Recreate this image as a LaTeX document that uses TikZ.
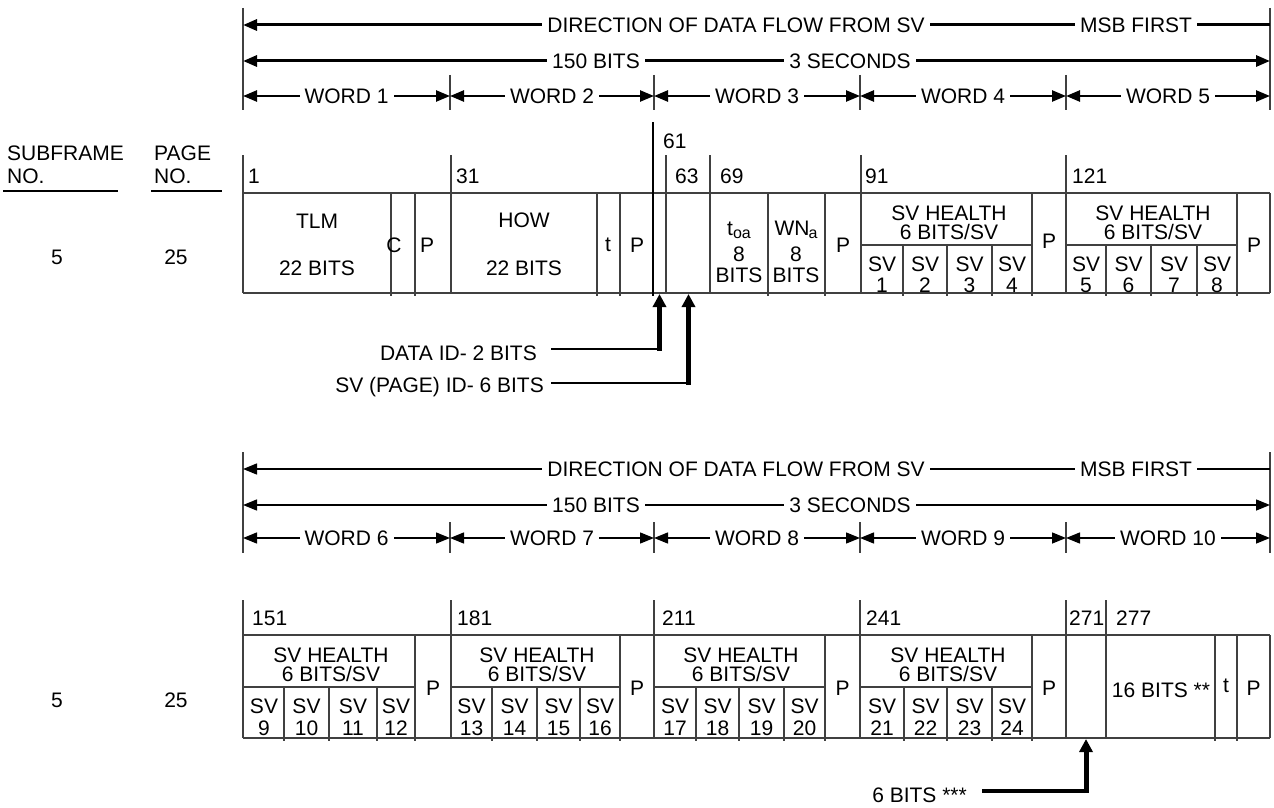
\documentclass[tikz,border=0pt]{standalone}
\usepackage{fontspec}
\setmainfont{Liberation Sans}
\usetikzlibrary{arrows.meta}
\newcommand{\subtxt}[1]{\raisebox{-3pt}{\fontsize{16}{16}\selectfont #1}}
\begin{document}
\begin{tikzpicture}[x=1pt,y=-1pt,
  every node/.style={font=\fontsize{21}{22}\selectfont, inner sep=0pt, text=black},
  thinln/.style={draw=black!75, line width=1.2pt},
  lab/.style={fill=white, inner xsep=5pt, inner ysep=3pt},
  num/.style={anchor=west},
  >={Triangle[length=14pt,width=11pt]},
  upar/.style={line width=5pt, -{Triangle[length=13pt,width=13pt]}}
]
\useasboundingbox (0,0) rectangle (1274,808);

% ================= SECTION 1 : header arrows =================
\draw[thinln] (243,8) -- (243,110);
\draw[thinln] (1270,8) -- (1270,110);
\foreach \x in {450,654,860,1066} \draw[thinln] (\x,75) -- (\x,110);

\coordinate (a1l) at (243,25); \coordinate (a1r) at (1270,25);
\draw[<-, line width=3pt] (a1l) -- (a1r);
\node[lab] (dir1) at (736,25) {DIRECTION OF DATA FLOW FROM SV};
\node[lab] (msb1) at (1136,25) {MSB FIRST};

\coordinate (a2l) at (243,61); \coordinate (a2r) at (1270,61);
\draw[<->, line width=3pt] (a2l) -- (a2r);
\node[lab] (bits1) at (596,61) {150 BITS};
\node[lab] (sec1) at (850,61) {3 SECONDS};

\foreach \a/\b/\n in {243/450/1, 450/654/2, 654/860/3, 860/1066/4, 1066/1270/5} {
  \coordinate (wl\n) at (\a,96); \coordinate (wr\n) at (\b,96);
  \draw[<->, line width=2.5pt] (wl\n) -- (wr\n);
  \node[lab] (w\n) at ({(\a+\b)/2},96) {WORD \n};
}

% ================= left labels =================
\node[anchor=west] (sf) at (7,153) {SUBFRAME};
\node[anchor=west] (sfno) at (7,176) {NO.};
\draw[thinln, draw=black] (3,191) -- (118,191);
\node[anchor=west] (pg) at (154,153) {PAGE};
\node[anchor=west] (pgno) at (154,176) {NO.};
\draw[thinln, draw=black] (151,191) -- (222,191);
\node (sf1) at (57,257) {5};
\node (pg1) at (176,257) {25};
\node (sf2) at (57,700) {5};
\node (pg2) at (176,700) {25};

% ================= TABLE 1 =================
\draw[thinln] (243,193) -- (1270,193);
\draw[thinln] (243,293) -- (1270,293);
\draw[thinln] (1270,193) -- (1270,293);
\foreach \x in {243,451,666,710,861,1066} \draw[thinln] (\x,155) -- (\x,293);
\draw[line width=1.4pt, black] (653,122) -- (653,296);
\foreach \x in {391,415,597,620,768,825,1032,1237} \draw[thinln] (\x,193) -- (\x,296);
\foreach \x in {903,947,992,1106,1151,1197} \draw[thinln] (\x,245) -- (\x,296);
\draw[thinln] (861,245) -- (1032,245);
\draw[thinln] (1066,245) -- (1237,245);

\node[num] (n1) at (248,176) {1};
\node[num] (n31) at (456,176) {31};
\node[num] (n61) at (663,141) {61};
\node[num] (n63) at (675,176) {63};
\node[num] (n69) at (720,176) {69};
\node[num] (n91) at (865,176) {91};
\node[num] (n121) at (1072,176) {121};

\node (tlm) at (317,221) {TLM};
\node (tlmb) at (317,268) {22 BITS};
\node (cc) at (394,245) {C};
\node (pp0) at (427,245) {P};
\node (how) at (524,220) {HOW};
\node (howb) at (524,268) {22 BITS};
\node (tt1) at (608,245) {t};
\node (pp1) at (637,245) {P};
\node (toa) at (739,230) {t\subtxt{oa}};
\node (toa8) at (739,254) {8};
\node (toab) at (739,275) {BITS};
\node (wna) at (796,230) {WN\kern-1pt\subtxt{a}};
\node (wna8) at (796,254) {8};
\node (wnab) at (796,275) {BITS};
\node (pp2) at (843,245) {P};

\node (h4) at (949,213) {SV HEALTH};
\node (h4b) at (949,232) {6 BITS/SV};
\node (pp3) at (1049,241) {P};
\node (h5) at (1153,213) {SV HEALTH};
\node (h5b) at (1153,232) {6 BITS/SV};
\node (pp4) at (1254,245) {P};
\foreach \x/\n in {882/1, 925/2, 969.5/3, 1012/4, 1086/5, 1128.5/6, 1174/7, 1217/8} {
  \node (sv\n) at (\x,264) {SV};
  \node (svn\n) at (\x,285) {\n};
}

% arrows under table 1
\node[anchor=east] (dataid) at (537,353) {DATA ID- 2 BITS};
\coordinate (d1s) at (551,349); \coordinate (d1c) at (662,349);
\coordinate (d1v) at (659.5,350.5); \coordinate (d1t) at (659.5,294);
\draw[line width=2.5pt] (d1s) -- (d1c);
\draw[upar] (d1v) -- (d1t);

\node[anchor=east] (svid) at (544,387) {SV (PAGE) ID- 6 BITS};
\coordinate (d2s) at (551,383); \coordinate (d2c) at (691,383);
\coordinate (d2v) at (688.5,384.5); \coordinate (d2t) at (688.5,294);
\draw[line width=2.5pt] (d2s) -- (d2c);
\draw[upar] (d2v) -- (d2t);

% ================= SECTION 2 : header arrows =================
\draw[thinln] (243,452) -- (243,553);
\draw[thinln] (1270,452) -- (1270,553);
\foreach \x in {450,654,860,1066} \draw[thinln] (\x,522) -- (\x,553);

\coordinate (b1l) at (243,469); \coordinate (b1r) at (1270,469);
\draw[<-, line width=1.4pt] (b1l) -- (b1r);
\node[lab] (dir2) at (736,469) {DIRECTION OF DATA FLOW FROM SV};
\node[lab] (msb2) at (1136,469) {MSB FIRST};

\coordinate (b2l) at (243,505); \coordinate (b2r) at (1270,505);
\draw[<->, line width=1.4pt] (b2l) -- (b2r);
\node[lab] (bits2) at (596,505) {150 BITS};
\node[lab] (sec2) at (850,505) {3 SECONDS};

\foreach \a/\b/\n in {243/450/6, 450/654/7, 654/860/8, 860/1066/9, 1066/1270/10} {
  \coordinate (vl\n) at (\a,538); \coordinate (vr\n) at (\b,538);
  \draw[<->, line width=1.4pt] (vl\n) -- (vr\n);
  \node[lab] (v\n) at ({(\a+\b)/2},538) {WORD \n};
}

% ================= TABLE 2 =================
\draw[thinln] (243,635) -- (1270,635);
\draw[thinln] (243,738) -- (1270,738);
\draw[thinln] (1270,635) -- (1270,738);
\foreach \x in {243,451,654,860,1066,1106} \draw[thinln] (\x,600) -- (\x,738);
\foreach \x in {415,620,825,1032,1215,1237} \draw[thinln] (\x,635) -- (\x,741);
\foreach \x in {284,329,377,492,537,580,696,739,784,904,947,992} \draw[thinln] (\x,687) -- (\x,741);
\foreach \a/\b in {243/415, 451/620, 654/825, 860/1032} \draw[thinln] (\a,687) -- (\b,687);

\node[num] (m151) at (252,618) {151};
\node[num] (m181) at (457,618) {181};
\node[num] (m211) at (662,618) {211};
\node[num] (m241) at (866,618) {241};
\node[num] (m271) at (1069,618) {271};
\node[num] (m277) at (1116,618) {277};

\foreach \c/\k in {331/6, 537/7, 741/8, 948/9} {
  \node (g\k) at (\c,655) {SV HEALTH};
  \node (gb\k) at (\c,674) {6 BITS/SV};
}
\foreach \x/\n in {264/9, 306.5/10, 353/11, 396/12, 471.5/13, 514.5/14, 558.5/15, 600/16,
                   675/17, 717.5/18, 761.5/19, 804.5/20, 882/21, 925.5/22, 969.5/23, 1012/24} {
  \node (s\n) at (\x,706) {SV};
  \node (sn\n) at (\x,728) {\n};
}
\foreach \x/\k in {433/a, 637/b, 842.5/c, 1049/d} \node (q\k) at (\x,688) {P};
\node (b16) at (1161,690) {16 BITS **};
\node (tt2) at (1226,686) {t};
\node (qe) at (1253.5,688) {P};

% arrow under table 2
\node[anchor=east] (six) at (967,795) {6 BITS ***};
\coordinate (e1s) at (982,791); \coordinate (e1c) at (1088.5,791);
\coordinate (e1v) at (1086,793); \coordinate (e1t) at (1086,739);
\draw[line width=4pt] (e1s) -- (e1c);
\draw[upar] (e1v) -- (e1t);

\end{tikzpicture}
\end{document}
